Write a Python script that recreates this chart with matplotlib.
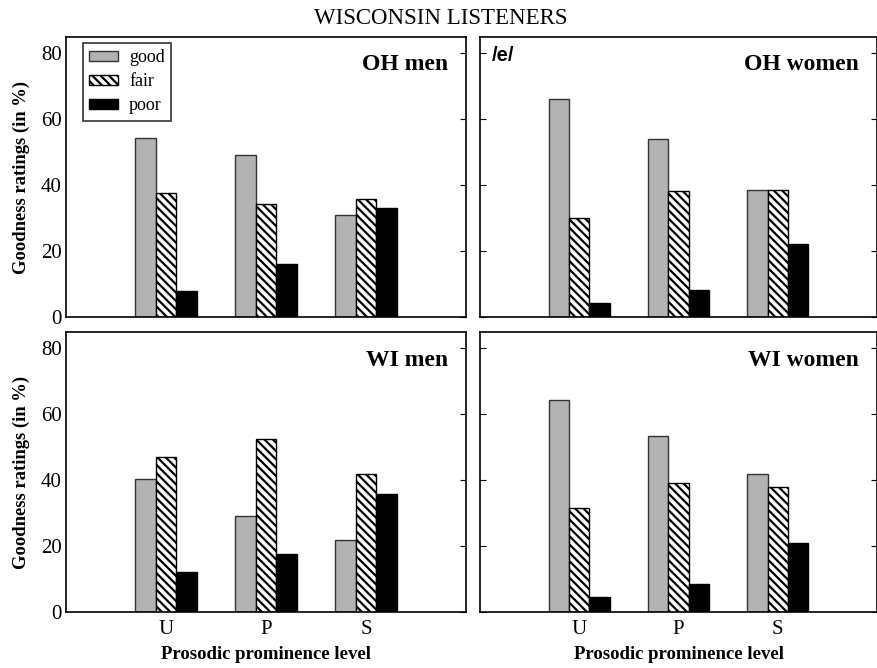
import matplotlib.pyplot as plt
import numpy as np

plt.rcParams['font.family'] = ['Liberation Serif', 'DejaVu Serif']
plt.rcParams['hatch.linewidth'] = 1.6

levels = ['U', 'P', 'S']
ratings = ['good', 'fair', 'poor']

# values in %: [good, fair, poor] for U, P, S
oh_men_good = [54.3, 49.2, 30.9]
oh_men_fair = [37.6, 34.3, 35.8]
oh_men_poor = [7.9, 16.2, 33.0]

oh_women_good = [66.1, 54.1, 38.7]
oh_women_fair = [30.1, 38.3, 38.7]
oh_women_poor = [4.3, 8.1, 22.2]

wi_men_good = [40.4, 29.2, 21.9]
wi_men_fair = [47.2, 52.6, 41.8]
wi_men_poor = [12.1, 17.6, 35.8]

wi_women_good = [64.4, 53.4, 42.0]
wi_women_fair = [31.7, 39.2, 37.8]
wi_women_poor = [4.7, 8.5, 20.8]

panels = [
    ('OH men', oh_men_good, oh_men_fair, oh_men_poor),
    ('OH women', oh_women_good, oh_women_fair, oh_women_poor),
    ('WI men', wi_men_good, wi_men_fair, wi_men_poor),
    ('WI women', wi_women_good, wi_women_fair, wi_women_poor),
]

fig = plt.figure(figsize=(8.77, 6.68), dpi=100)
W, H = 877.0, 668.0
boxes = [
    (66, 37, 400, 280),
    (480, 37, 397, 280),
    (66, 332, 400, 280),
    (480, 332, 397, 280),
]

x = np.arange(1, 4)
w = 0.205
styles = [
    dict(color='#b3b3b3', edgecolor='#333333', linewidth=1.0),
    dict(color='white', edgecolor='black', hatch='\\\\\\\\', linewidth=1.0),
    dict(color='black', edgecolor='black', linewidth=1.0),
]

for i, (name, good, fair, poor) in enumerate(panels):
    l, t, bw, bh = boxes[i]
    ax = fig.add_axes([l / W, (H - t - bh) / H, bw / W, bh / H])
    for k, vals in enumerate([good, fair, poor]):
        ax.bar(x + (k - 1) * w, vals, w, label=ratings[k], **styles[k])
    ax.set_xlim(0, 4)
    ax.set_ylim(0, 85)
    ax.set_yticks([0, 20, 40, 60, 80])
    for sp in ax.spines.values():
        sp.set_linewidth(1.2)
    left = i % 2 == 0
    bottom = i >= 2
    if bottom:
        ax.set_xticks(x)
        ax.set_xticklabels(levels)
        ax.tick_params(axis='x', length=0, pad=6, labelsize=15)
        ax.set_xlabel('Prosodic prominence level', fontsize=13.5,
                      fontweight='bold', labelpad=5)
    else:
        ax.set_xticks([])
    if left:
        ax.tick_params(axis='y', left=False, right=True, direction='in',
                       length=4, pad=3, labelsize=15)
        ax.set_ylabel('Goodness ratings (in %)', fontsize=13.4,
                      fontweight='bold', labelpad=8)
    else:
        ax.tick_params(axis='y', left=True, labelleft=False,
                       direction='out', length=6)
        ax.tick_params(axis='y', right=True, direction='in', length=4)
    ax.text(0.955, 0.90, name, transform=ax.transAxes, ha='right',
            va='center', fontsize=17, fontweight='bold')
    if i == 0:
        leg = ax.legend(loc='upper left', bbox_to_anchor=(0.0425, 0.978),
                        borderaxespad=0, fontsize=13, frameon=True,
                        fancybox=False, edgecolor='black', handlelength=1.6,
                        handleheight=0.5, labelspacing=0.38,
                        borderpad=0.35, handletextpad=0.6)
        leg.get_frame().set_linewidth(1.2)
    if i == 1:
        ax.text(0.03, 0.935, '/e/', transform=ax.transAxes, ha='left',
                va='center', fontsize=14.5, fontweight='bold',
                family=['Liberation Sans', 'DejaVu Sans'])

fig.text(441 / W, 1 - 18 / H, 'WISCONSIN LISTENERS',
         ha='center', va='center', fontsize=16.5)

fig.savefig('out.png', dpi=100)
